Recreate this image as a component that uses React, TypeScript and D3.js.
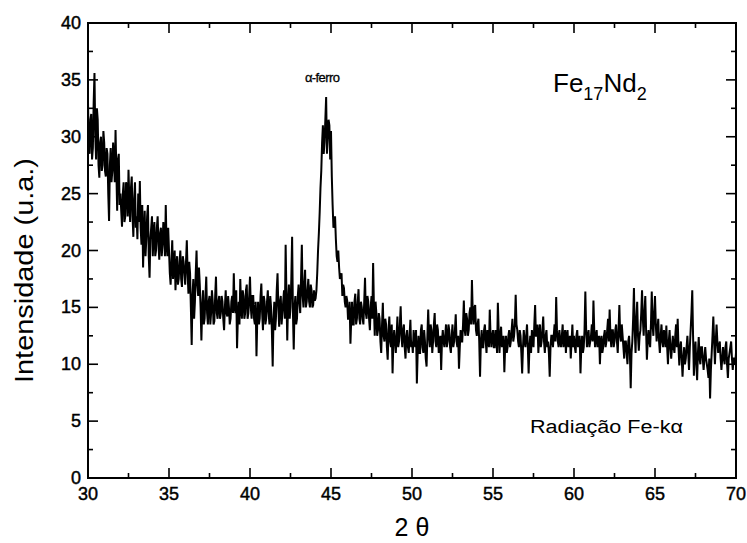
import React from "react";
import * as d3 from "d3";

const X_START = 30;
const X_STEP = 0.1;

const intensity: number[] = [
  33.0, 28.5, 32.0, 29.0, 35.6, 28.0, 31.5, 26.4, 30.0, 27.5,
  29.5, 26.5, 28.5, 22.6, 29.0, 27.0, 28.0, 30.6, 23.5, 28.5,
  25.0, 22.1, 26.0, 23.0, 25.5, 27.1, 22.5, 26.5, 21.2, 26.0,
  23.0, 25.0, 26.1, 20.5, 18.5, 23.5, 21.0, 24.0, 17.6, 22.0,
  19.5, 22.5, 20.0, 23.0, 19.2, 22.0, 20.5, 21.5, 24.0, 19.5,
  20.0, 17.0, 20.9, 18.5, 16.5, 19.5, 17.5, 20.0, 16.8, 19.0,
  17.0, 20.9, 16.2, 18.0, 11.7, 17.5, 15.5, 20.0, 16.0, 17.0,
  12.1, 16.5, 14.0, 17.7, 13.5, 16.0, 14.5, 15.5, 13.8, 17.7,
  14.0, 16.0, 14.5, 15.5, 13.0, 16.5, 14.2, 15.0, 14.0, 16.0,
  18.0, 14.5, 11.4, 15.5, 17.5, 14.0, 16.0, 14.5, 17.0, 14.5,
  17.7, 14.0, 16.0, 13.5, 10.7, 15.5, 14.0, 17.1, 13.0, 15.5,
  14.0, 16.5, 13.5, 15.0, 9.8, 15.5, 14.0, 18.0, 13.3, 16.0,
  14.5, 16.5, 20.5, 12.1, 17.0, 15.0, 21.2, 11.3, 16.0, 14.0,
  17.0, 14.5, 20.5, 15.0, 18.3, 15.5, 17.5, 15.0, 16.5, 15.2,
  15.6, 16.5, 20.0, 23.3, 27.0, 31.0, 29.5, 33.5, 30.0, 31.0,
  30.5, 24.0, 22.4, 21.0, 19.0, 18.5, 17.7, 16.0, 16.7, 15.0,
  15.6, 14.0, 11.8, 15.5, 13.5, 16.2, 14.0, 16.6, 13.5, 15.0,
  13.5, 17.6, 14.0, 15.5, 13.0, 16.0, 18.9, 12.5, 14.5, 13.0,
  14.0, 11.0, 15.4, 12.0, 13.5, 10.4, 14.2, 11.5, 9.2, 13.0,
  11.0, 14.2, 12.0, 15.1, 11.5, 13.5, 10.5, 13.0, 11.0, 13.9,
  12.0, 13.0, 11.5, 8.3, 12.5, 11.0, 13.5, 11.0, 12.0, 9.8,
  14.8, 11.5, 13.0, 12.0, 14.5, 11.5, 13.0, 12.0, 9.5, 13.0,
  11.5, 13.5, 12.0, 13.0, 11.0, 13.5, 12.0, 14.4, 11.5, 9.6,
  13.0, 12.0, 15.6, 12.5, 14.0, 13.0, 15.0, 17.4, 13.5, 15.2,
  12.5, 14.0, 8.9, 13.0, 11.5, 13.5, 11.0, 12.5, 14.8, 11.5,
  13.0, 11.5, 12.5, 15.4, 11.0, 13.3, 12.0, 9.3, 12.5, 11.5,
  13.0, 12.0, 14.0, 12.5, 16.1, 13.0, 11.5, 12.5, 9.2, 13.0,
  11.5, 13.5, 9.2, 12.5, 13.0, 11.5, 15.2, 12.5, 11.0, 13.5,
  12.0, 14.2, 11.0, 13.0, 12.0, 8.9, 12.5, 11.5, 13.5, 15.9,
  12.0, 13.0, 11.5, 13.5, 12.0, 11.0, 13.0, 12.0, 10.5, 13.5,
  12.5, 11.0, 13.0, 12.0, 9.2, 12.5, 11.5, 16.4, 11.5, 13.0,
  12.0, 13.5, 15.6, 11.5, 13.0, 12.0, 10.0, 12.5, 11.5, 13.0,
  12.0, 14.0, 14.8, 11.5, 13.0, 12.0, 13.5, 11.0, 15.2, 12.0,
  12.5, 10.5, 12.0, 10.0, 12.5, 7.9, 12.0, 16.7, 11.0, 15.5,
  11.2, 13.0, 16.5, 12.5, 16.0, 10.4, 13.0, 11.5, 16.4, 12.5,
  16.0, 12.0, 14.0, 11.0, 13.5, 11.5, 12.5, 13.4, 10.0, 13.0,
  10.5, 12.5, 11.0, 13.5, 14.0, 9.9, 12.0, 8.9, 11.5, 10.5,
  12.5, 9.5, 13.0, 16.5, 9.0, 12.0, 8.6, 12.4, 10.0, 11.5,
  9.5, 11.5, 10.0, 8.8, 7.0, 11.0, 14.2, 10.0, 13.5, 11.0,
  12.0, 9.5, 11.5, 10.0, 12.0, 8.8, 11.0, 12.0, 9.5, 10.5,
  11.0,
];

// Intensity read at the in-between positions 2θ = 30.05, 30.15 … 69.95
const intensityMid: number[] = [
  29.0, 31.5, 28.0, 33.0, 30.0, 32.5, 27.5, 29.5, 27.0, 30.5,
  27.0, 29.0, 25.0, 27.5, 26.0, 29.5, 26.0, 27.0, 28.0, 24.0,
  23.5, 25.0, 22.5, 26.0, 23.0, 24.5, 25.5, 23.0, 24.5, 22.0,
  21.0, 22.5, 22.0, 24.0, 21.5, 19.5, 23.0, 19.5, 21.0, 23.0,
  21.5, 19.5, 22.0, 20.5, 21.5, 19.5, 22.5, 19.5, 20.5, 22.0,
  18.0, 19.0, 17.5, 20.0, 18.5, 17.0, 19.0, 17.5, 19.5, 18.0,
  19.0, 18.0, 19.0, 15.0, 16.0, 14.0, 18.0, 17.0, 18.5, 15.0,
  15.0, 13.5, 16.0, 14.5, 15.5, 13.5, 16.5, 13.5, 16.0, 14.5,
  15.5, 14.0, 16.0, 14.0, 15.0, 14.5, 16.0, 13.5, 15.5, 14.5,
  15.0, 16.5, 14.0, 13.5, 15.0, 16.5, 14.0, 16.5, 14.0, 16.0,
  15.0, 16.0, 14.0, 15.5, 14.0, 13.5, 16.0, 14.5, 16.0, 13.5,
  15.5, 14.5, 16.0, 13.0, 14.0, 13.0, 16.5, 15.0, 15.5, 13.5,
  15.5, 14.0, 16.0, 15.5, 14.0, 17.5, 14.5, 15.0, 13.5, 16.0,
  15.5, 17.5, 16.0, 17.0, 15.0, 16.5, 15.5, 17.0, 15.0, 16.5,
  15.8, 18.0, 21.5, 25.5, 29.5, 28.5, 31.5, 28.5, 31.5, 28.0,
  26.5, 22.0, 23.0, 19.5, 20.0, 17.5, 18.0, 17.0, 15.5, 16.0,
  14.0, 15.5, 14.0, 13.5, 15.5, 13.5, 15.5, 14.0, 15.5, 14.0,
  15.5, 14.5, 16.0, 14.0, 15.0, 14.0, 15.0, 15.5, 12.5, 14.5,
  12.0, 13.5, 12.5, 14.0, 11.5, 13.0, 12.0, 13.5, 12.0, 12.0,
  12.5, 11.5, 13.5, 12.5, 13.0, 11.5, 12.5, 11.5, 12.5, 11.5,
  11.0, 12.0, 13.0, 11.0, 11.0, 13.0, 11.5, 13.0, 10.5, 12.5,
  12.5, 13.5, 11.0, 13.5, 12.0, 13.5, 11.0, 12.5, 12.0, 12.0,
  12.5, 11.5, 13.5, 11.5, 12.5, 11.5, 13.0, 12.0, 12.5, 11.5,
  12.0, 13.5, 13.0, 14.5, 12.5, 14.5, 13.5, 14.5, 15.0, 13.0,
  13.5, 12.0, 12.0, 11.5, 13.0, 12.0, 13.0, 11.5, 12.5, 12.5,
  11.5, 13.0, 11.0, 13.0, 12.5, 11.5, 12.5, 11.5, 11.0, 12.5,
  11.5, 13.0, 12.0, 13.5, 13.5, 12.0, 13.0, 11.0, 11.5, 12.0,
  12.5, 11.5, 11.5, 11.0, 12.0, 13.5, 12.5, 13.5, 12.5, 11.5,
  13.0, 12.0, 12.5, 11.5, 11.0, 11.5, 12.5, 12.5, 12.0, 13.0,
  11.5, 12.0, 12.5, 11.5, 13.0, 12.5, 11.5, 12.5, 12.0, 11.5,
  11.5, 12.5, 11.5, 12.5, 11.5, 11.0, 13.0, 13.0, 12.5, 11.5,
  12.5, 12.0, 13.0, 12.5, 11.5, 12.5, 12.0, 11.0, 12.5, 11.5,
  13.0, 12.0, 12.5, 13.0, 11.5, 13.0, 12.0, 13.0, 12.5, 13.5,
  11.5, 12.0, 11.0, 12.0, 11.0, 11.0, 14.0, 13.0, 14.0, 12.5,
  12.5, 14.5, 14.0, 14.5, 13.0, 12.0, 12.0, 13.5, 13.5, 14.5,
  13.5, 13.0, 12.0, 12.5, 12.0, 13.0, 11.5, 11.5, 12.0, 11.5,
  11.5, 11.5, 12.5, 11.5, 11.5, 11.5, 10.5, 10.5, 10.0, 11.5,
  11.0, 11.5, 14.5, 12.5, 11.0, 10.0, 11.0, 10.5, 11.5, 10.5,
  10.5, 10.5, 9.5, 10.5, 9.5, 12.5, 12.0, 12.0, 12.0, 11.5,
  10.5, 10.5, 10.5, 11.5, 10.0, 10.5, 11.5, 10.5, 10.5, 10.0,
];

const xMajorTicks = [30, 35, 40, 45, 50, 55, 60, 65, 70];
const xMinorTicks = [32.5, 37.5, 42.5, 47.5, 52.5, 57.5, 62.5, 67.5];
const yMajorTicks = [0, 5, 10, 15, 20, 25, 30, 35, 40];
const yMinorTicks = [2.5, 7.5, 12.5, 17.5, 22.5, 27.5, 32.5, 37.5];

const W = 747;
const H = 543;
const M = { left: 88, right: 11, top: 23, bottom: 65 };

export default function App() {
  const x = d3.scaleLinear().domain([30, 70]).range([M.left, W - M.right]);
  const y = d3.scaleLinear().domain([0, 40]).range([H - M.bottom, M.top]);

  const pts: [number, number][] = [];
  intensity.forEach((v, i) => {
    pts.push([X_START + i * X_STEP, v]);
    if (i < intensityMid.length) pts.push([X_START + (i + 0.5) * X_STEP, intensityMid[i]]);
  });

  const line = d3
    .line<[number, number]>()
    .x((d) => x(d[0]))
    .y((d) => y(d[1]));

  const x0 = M.left;
  const x1 = W - M.right;
  const y0 = H - M.bottom;
  const y1 = M.top;
  const font = "'Liberation Sans', Arial, sans-serif";
  const MAJ = 10;
  const MIN = 5;
  const heavy = { stroke: "#000", strokeWidth: 0.45 };

  return (
    <svg
      width={W}
      height={H}
      style={{ position: "absolute", left: 0, top: 0, background: "#fff" }}
    >
      <rect x={0} y={0} width={W} height={H} fill="#fff" />
      <path
        d={line(pts) || ""}
        fill="none"
        stroke="#000"
        strokeWidth={2}
        strokeLinejoin="miter"
      />
      <rect
        x={x0}
        y={y1}
        width={x1 - x0}
        height={y0 - y1}
        fill="none"
        stroke="#000"
        strokeWidth={2}
      />
      {xMajorTicks.map((t) => (
        <g key={"xM" + t}>
          <line x1={x(t)} x2={x(t)} y1={y0} y2={y0 - MAJ} stroke="#000" strokeWidth={1.6} />
          <line x1={x(t)} x2={x(t)} y1={y1} y2={y1 + MAJ} stroke="#000" strokeWidth={1.6} />
          <text
            x={x(t)}
            y={y0 + 22}
            textAnchor="middle"
            fontFamily={font}
            fontSize={18}
            fill="#000"
            {...heavy}
          >
            {t}
          </text>
        </g>
      ))}
      {xMinorTicks.map((t) => (
        <g key={"xm" + t}>
          <line x1={x(t)} x2={x(t)} y1={y0} y2={y0 - MIN} stroke="#000" strokeWidth={1.6} />
          <line x1={x(t)} x2={x(t)} y1={y1} y2={y1 + MIN} stroke="#000" strokeWidth={1.6} />
        </g>
      ))}
      {yMajorTicks.map((t) => (
        <g key={"yM" + t}>
          <line x1={x0} x2={x0 + MAJ} y1={y(t)} y2={y(t)} stroke="#000" strokeWidth={1.6} />
          <line x1={x1} x2={x1 - MAJ} y1={y(t)} y2={y(t)} stroke="#000" strokeWidth={1.6} />
          <text
            x={x0 - 7}
            y={y(t) + 6}
            textAnchor="end"
            fontFamily={font}
            fontSize={18}
            fill="#000"
            {...heavy}
          >
            {t}
          </text>
        </g>
      ))}
      {yMinorTicks.map((t) => (
        <g key={"ym" + t}>
          <line x1={x0} x2={x0 + MIN} y1={y(t)} y2={y(t)} stroke="#000" strokeWidth={1.6} />
          <line x1={x1} x2={x1 - MIN} y1={y(t)} y2={y(t)} stroke="#000" strokeWidth={1.6} />
        </g>
      ))}
      <text
        transform={`translate(33, ${(y0 + y1) / 2 + 20}) rotate(-90)`}
        textAnchor="middle"
        fontFamily={font}
        fontSize={25}
        fill="#000"
        textLength={225}
        lengthAdjust="spacingAndGlyphs"
      >
        Intensidade (u.a.)
      </text>
      <text
        x={(x0 + x1) / 2}
        y={536}
        textAnchor="middle"
        fontFamily={font}
        fontSize={25}
        fill="#000"
      >
        2 θ
      </text>
      <text
        x={x(44.45)}
        y={82}
        textAnchor="middle"
        fontFamily={font}
        fontSize={13}
        fill="#000"
        letterSpacing={-0.6}
        {...heavy}
        strokeWidth={0.3}
      >
        α-ferro
      </text>
      <text x={553} y={92} fontFamily={font} fontSize={26} fill="#000">
        Fe
        <tspan fontSize={18} dy={8}>17</tspan>
        <tspan dy={-8}>Nd</tspan>
        <tspan fontSize={18} dy={8}>2</tspan>
      </text>
      <text
        x={530}
        y={433}
        fontFamily={font}
        fontSize={18}
        fill="#000"
        textLength={153}
        lengthAdjust="spacingAndGlyphs"
      >
        Radiação Fe-kα
      </text>
    </svg>
  );
}
